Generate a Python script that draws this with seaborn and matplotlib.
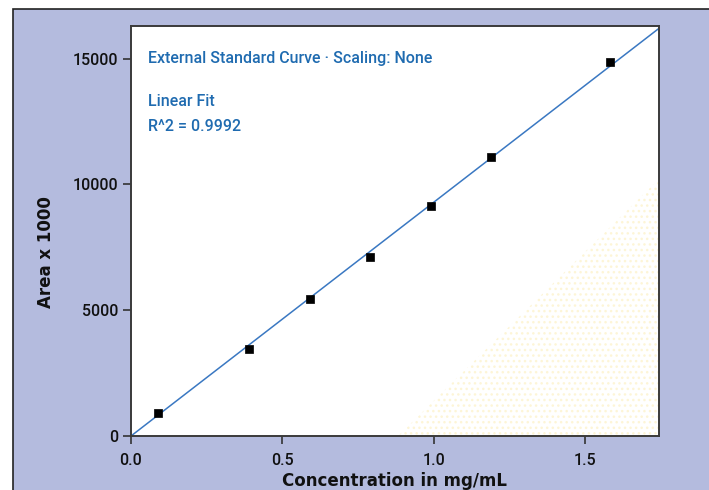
import numpy as np
import pandas as pd
import matplotlib
matplotlib.use("Agg")
import matplotlib.pyplot as plt
from matplotlib.patches import Rectangle, Polygon
import seaborn as sns

# Calibration standards
concentration = [0.09, 0.39, 0.59, 0.79, 0.99, 1.19, 1.58]   # mg/mL
area_k = [900, 3460, 5460, 7110, 9140, 11090, 14880]          # Area x 1000
x_ticks = [0.0, 0.5, 1.0, 1.5]
y_ticks = [0, 5000, 10000, 15000]
r_squared = 0.9992

sns.set_theme(style="white")
plt.rcParams["font.family"] = ["DejaVu Sans"]

df = pd.DataFrame({"conc": concentration, "area": area_k})

fig = plt.figure(figsize=(7.09, 4.90), dpi=100)
fig.patch.set_facecolor("white")

# lavender panel behind the plot
panel = Rectangle((13 / 709, -0.05), 1.05, 1 - 9 / 490 + 0.05,
                  transform=fig.transFigure, facecolor="#b4bbde",
                  edgecolor="#222222", linewidth=1.2, zorder=-10)
fig.patches.append(panel)

ax = fig.add_axes([131 / 709, 54 / 490, 528 / 709, 410 / 490])
ax.set_zorder(1)
ax.set_facecolor("white")
ax.set_xlim(0, 1.743)
ax.set_ylim(0, 16300)

# faint dotted wash in the lower-right corner
wash = Polygon([(0.88, 0), (1.743, 0), (1.743, 10200)], closed=True,
               facecolor="none", edgecolor="#fdf5d6", hatch="...",
               linewidth=0, zorder=0.5)
ax.add_patch(wash)

# linear fit through the origin
slope = float(np.dot(concentration, area_k) / np.dot(concentration, concentration))
fit = pd.DataFrame({"conc": [0.0, 1.743]})
fit["area"] = slope * fit["conc"]
sns.lineplot(data=fit, x="conc", y="area", ax=ax, color="#3a78c2",
             linewidth=1.1, zorder=2)

sns.scatterplot(data=df, x="conc", y="area", ax=ax, marker="s", s=40,
                color="black", edgecolor="black", zorder=3)

ax.set_xticks(x_ticks)
ax.set_xticklabels([f"{t:.1f}" for t in x_ticks])
ax.set_yticks(y_ticks)
ax.set_yticklabels([str(t) for t in y_ticks])
for lab in ax.get_xticklabels() + ax.get_yticklabels():
    lab.set_fontfamily(["Roboto", "DejaVu Sans"])
    lab.set_fontsize(11.5)
    lab.set_fontweight("medium")
    lab.set_color("#111111")
ax.tick_params(axis="both", direction="out", length=6, width=1.2,
               color="#333333", bottom=True, left=True)
ax.tick_params(axis="x", pad=6)
ax.tick_params(axis="y", pad=3)

for side in ["left", "bottom", "top", "right"]:
    ax.spines[side].set_color("#3a3a3a")
    ax.spines[side].set_linewidth(1.4)

ax.set_xlabel("Concentration in mg/mL", fontsize=12, fontweight="heavy",
              color="#111111", labelpad=3)
ax.set_ylabel("Area x 1000", fontsize=12, fontweight="heavy",
              color="#111111")
ax.yaxis.set_label_coords(-0.144, 0.449)

blue = "#1f6bb0"
note_font = ["Roboto", "DejaVu Sans"]
for y, txt in [(0.92, "External Standard Curve \u00b7 Scaling: None"),
               (0.815, "Linear Fit"),
               (0.754, f"R^2 = {r_squared:.4f}")]:
    ax.text(0.032, y, txt, transform=ax.transAxes, color=blue,
            fontsize=11.5, fontweight="medium", va="center", family=note_font)

fig.savefig("out.png", dpi=100, facecolor=fig.get_facecolor())
